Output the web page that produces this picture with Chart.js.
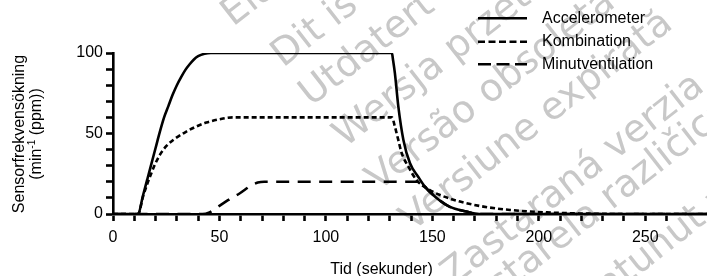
<!DOCTYPE html>
<html><head><meta charset="utf-8">
<script src="https://cdn.jsdelivr.net/npm/chart.js@4/dist/chart.umd.min.js"></script>
<style>html,body{margin:0;padding:0;background:#fff;overflow:hidden}#wrap{width:707px;height:276px;position:relative}</style>
</head><body><div id="wrap"><canvas id="c" width="707" height="276"></canvas></div>
<script>
// ---- data ----
const seriesNames = ['Accelerometer', 'Kombination', 'Minutventilation'];
const accelT = [0, 11.8, 14, 16, 18, 20, 22, 24, 26, 28, 30, 32, 34, 36, 38, 40, 43, 46, 131, 131.5, 132.4, 134, 136.4, 139.5, 143.4, 146.5, 152, 158, 166, 172, 279];
const accelV = [0, 0, 11, 21, 31, 41, 51, 60, 67, 74, 80, 85, 89.5, 93, 96, 98, 99.5, 100, 100, 96, 87.5, 67, 46, 31.5, 23, 17, 10, 4.6, 1.5, 0, 0];
const kombT = [0, 11.8, 14.1, 16.2, 18.0, 19.6, 22.0, 25.1, 29.0, 33.7, 38.4, 43.9, 50.2, 56.4, 131, 132.4, 134, 135.6, 138.7, 142.6, 147.3, 153.6, 163, 174, 186.5, 203.8, 220, 240, 279];
const kombV = [0, 0, 10.8, 19.1, 25.3, 30.5, 36.7, 42.3, 46.7, 50.6, 53.9, 56.8, 58.9, 60, 60, 54.3, 46, 37.8, 29.5, 21, 16, 11.8, 7.7, 4.6, 2.5, 1, 0.3, 0, 0];
const minvT = [0, 42, 45, 49.4, 54, 59.6, 65, 68, 71, 145, 146.5, 152, 158, 166, 172, 279];
const minvV = [0, 0, 0.8, 4.6, 8.6, 12.9, 17.8, 19.5, 20, 20, 17, 10, 4.6, 1.5, 0, 0];
const xLabelValues = [0, 50, 100, 150, 200, 250];
const yLabelValues = [0, 50, 100];
const xTitle = 'Tid (sekunder)';
const yTitle1 = 'Sensorfrekvensökning';
const yTitle2 = ['(min', '-1', ' (ppm))'];
const watermarks = ['Elavult verzió', 'Dit is een verouderde versie', 'Utdatert versjon', 'Wersja przeterminowana', 'Versão obsoleta', 'Versiune expirată', 'Zastaraná verzia', 'Zastarela različica', 'Vanhentunut versio'];

// ---- layout / style ----
const FONT = '"Liberation Sans", Arial, sans-serif';
const wmPos = [[233,27],[283,68],[311,107],[345,148],[378,192],[412,232],[453,287],[461,328],[515,372]];
const dashes = [[], [5,3], [13,8.5]];
const legendDashes = [[], [7,3.5], [13,5.5]];

const pts = (t, v) => t.map((x, i) => ({x: x, y: v[i]}));
const datasets = [[accelT, accelV], [kombT, kombV], [minvT, minvV]].map((s, i) => ({
  label: seriesNames[i], data: pts(s[0], s[1]), borderColor: '#000', borderWidth: 2.6,
  borderDash: dashes[i], pointRadius: 0, fill: false, cubicInterpolationMode: 'monotone', borderCapStyle: 'butt'
}));

const deco = {
  id: 'deco',
  beforeDraw(chart) {
    const ctx = chart.ctx;
    ctx.save();
    ctx.font = '38px "DejaVu Sans", sans-serif';
    ctx.fillStyle = '#c8c8c8';
    ctx.textBaseline = 'alphabetic';
    watermarks.forEach((w, i) => {
      ctx.save(); ctx.translate(wmPos[i][0], wmPos[i][1]); ctx.rotate(-38 * Math.PI / 180);
      ctx.fillText(w, 0, 0); ctx.restore();
    });
    ctx.restore();
  },
  afterDraw(chart) {
    const ctx = chart.ctx;
    ctx.save();
    ctx.fillStyle = '#000'; ctx.strokeStyle = '#000';
    // legend
    const ly = [18.3, 41.7, 64.3];
    seriesNames.forEach((n, i) => {
      ctx.lineWidth = 2.6; ctx.setLineDash(legendDashes[i]);
      ctx.beginPath(); ctx.moveTo(478, ly[i]); ctx.lineTo(527, ly[i]); ctx.stroke();
      ctx.setLineDash([]);
      ctx.font = '16px ' + FONT; ctx.textBaseline = 'middle'; ctx.textAlign = 'left';
      ctx.fillText(n, 542, ly[i]);
    });
    // x title
    ctx.font = '16px ' + FONT; ctx.textAlign = 'center'; ctx.textBaseline = 'alphabetic';
    ctx.fillText(xTitle, 381.5, 274);
    // y title
    ctx.save(); ctx.translate(24, 134); ctx.rotate(-Math.PI / 2);
    ctx.textAlign = 'center'; ctx.fillText(yTitle1, 0, 0);
    ctx.restore();
    ctx.save(); ctx.translate(41, 134); ctx.rotate(-Math.PI / 2);
    ctx.textAlign = 'left';
    ctx.font = '16px ' + FONT; const w0 = ctx.measureText(yTitle2[0]).width, w2 = ctx.measureText(yTitle2[2]).width;
    ctx.font = '10px ' + FONT; const w1 = ctx.measureText(yTitle2[1]).width;
    let x0 = -(w0 + w1 + w2) / 2;
    ctx.font = '16px ' + FONT; ctx.fillText(yTitle2[0], x0, 0);
    ctx.font = '10px ' + FONT; ctx.fillText(yTitle2[1], x0 + w0, -6);
    ctx.font = '16px ' + FONT; ctx.fillText(yTitle2[2], x0 + w0 + w1, 0);
    ctx.restore();
    ctx.restore();
  }
};

new Chart(document.getElementById('c'), {
  type: 'line',
  data: {datasets: datasets},
  options: {
    responsive: false, animation: false, devicePixelRatio: 1,
    layout: {padding: {top: 53, right: 0, left: 0, bottom: 0}},
    plugins: {legend: {display: false}, tooltip: {enabled: false}},
    scales: {
      x: {
        type: 'linear', min: 0, max: 279,
        afterBuildTicks: s => { s.ticks = s.ticks.filter(t => t.value % 10 === 0); },
        afterFit: s => { s.height = 62; },
        ticks: {stepSize: 10, autoSkip: false, maxRotation: 0, padding: 7, color: '#000', font: {family: FONT, size: 16},
          callback: v => xLabelValues.includes(v) ? String(v) : ''},
        grid: {drawOnChartArea: false, drawTicks: true, tickLength: 7, tickWidth: 2.6, tickColor: '#000'},
        border: {display: true, color: '#000', width: 2.6}
      },
      y: {
        min: 0, max: 100,
        afterFit: s => { s.width = 113; },
        ticks: {stepSize: 10, autoSkip: false, padding: 3, color: '#000', font: {family: FONT, size: 16},
          callback: v => yLabelValues.includes(v) ? String(v) : ''},
        grid: {drawOnChartArea: false, drawTicks: true, tickLength: 7, tickWidth: 2.6, tickColor: '#000'},
        border: {display: true, color: '#000', width: 2.6}
      }
    }
  },
  plugins: [deco]
});
</script></body></html>
